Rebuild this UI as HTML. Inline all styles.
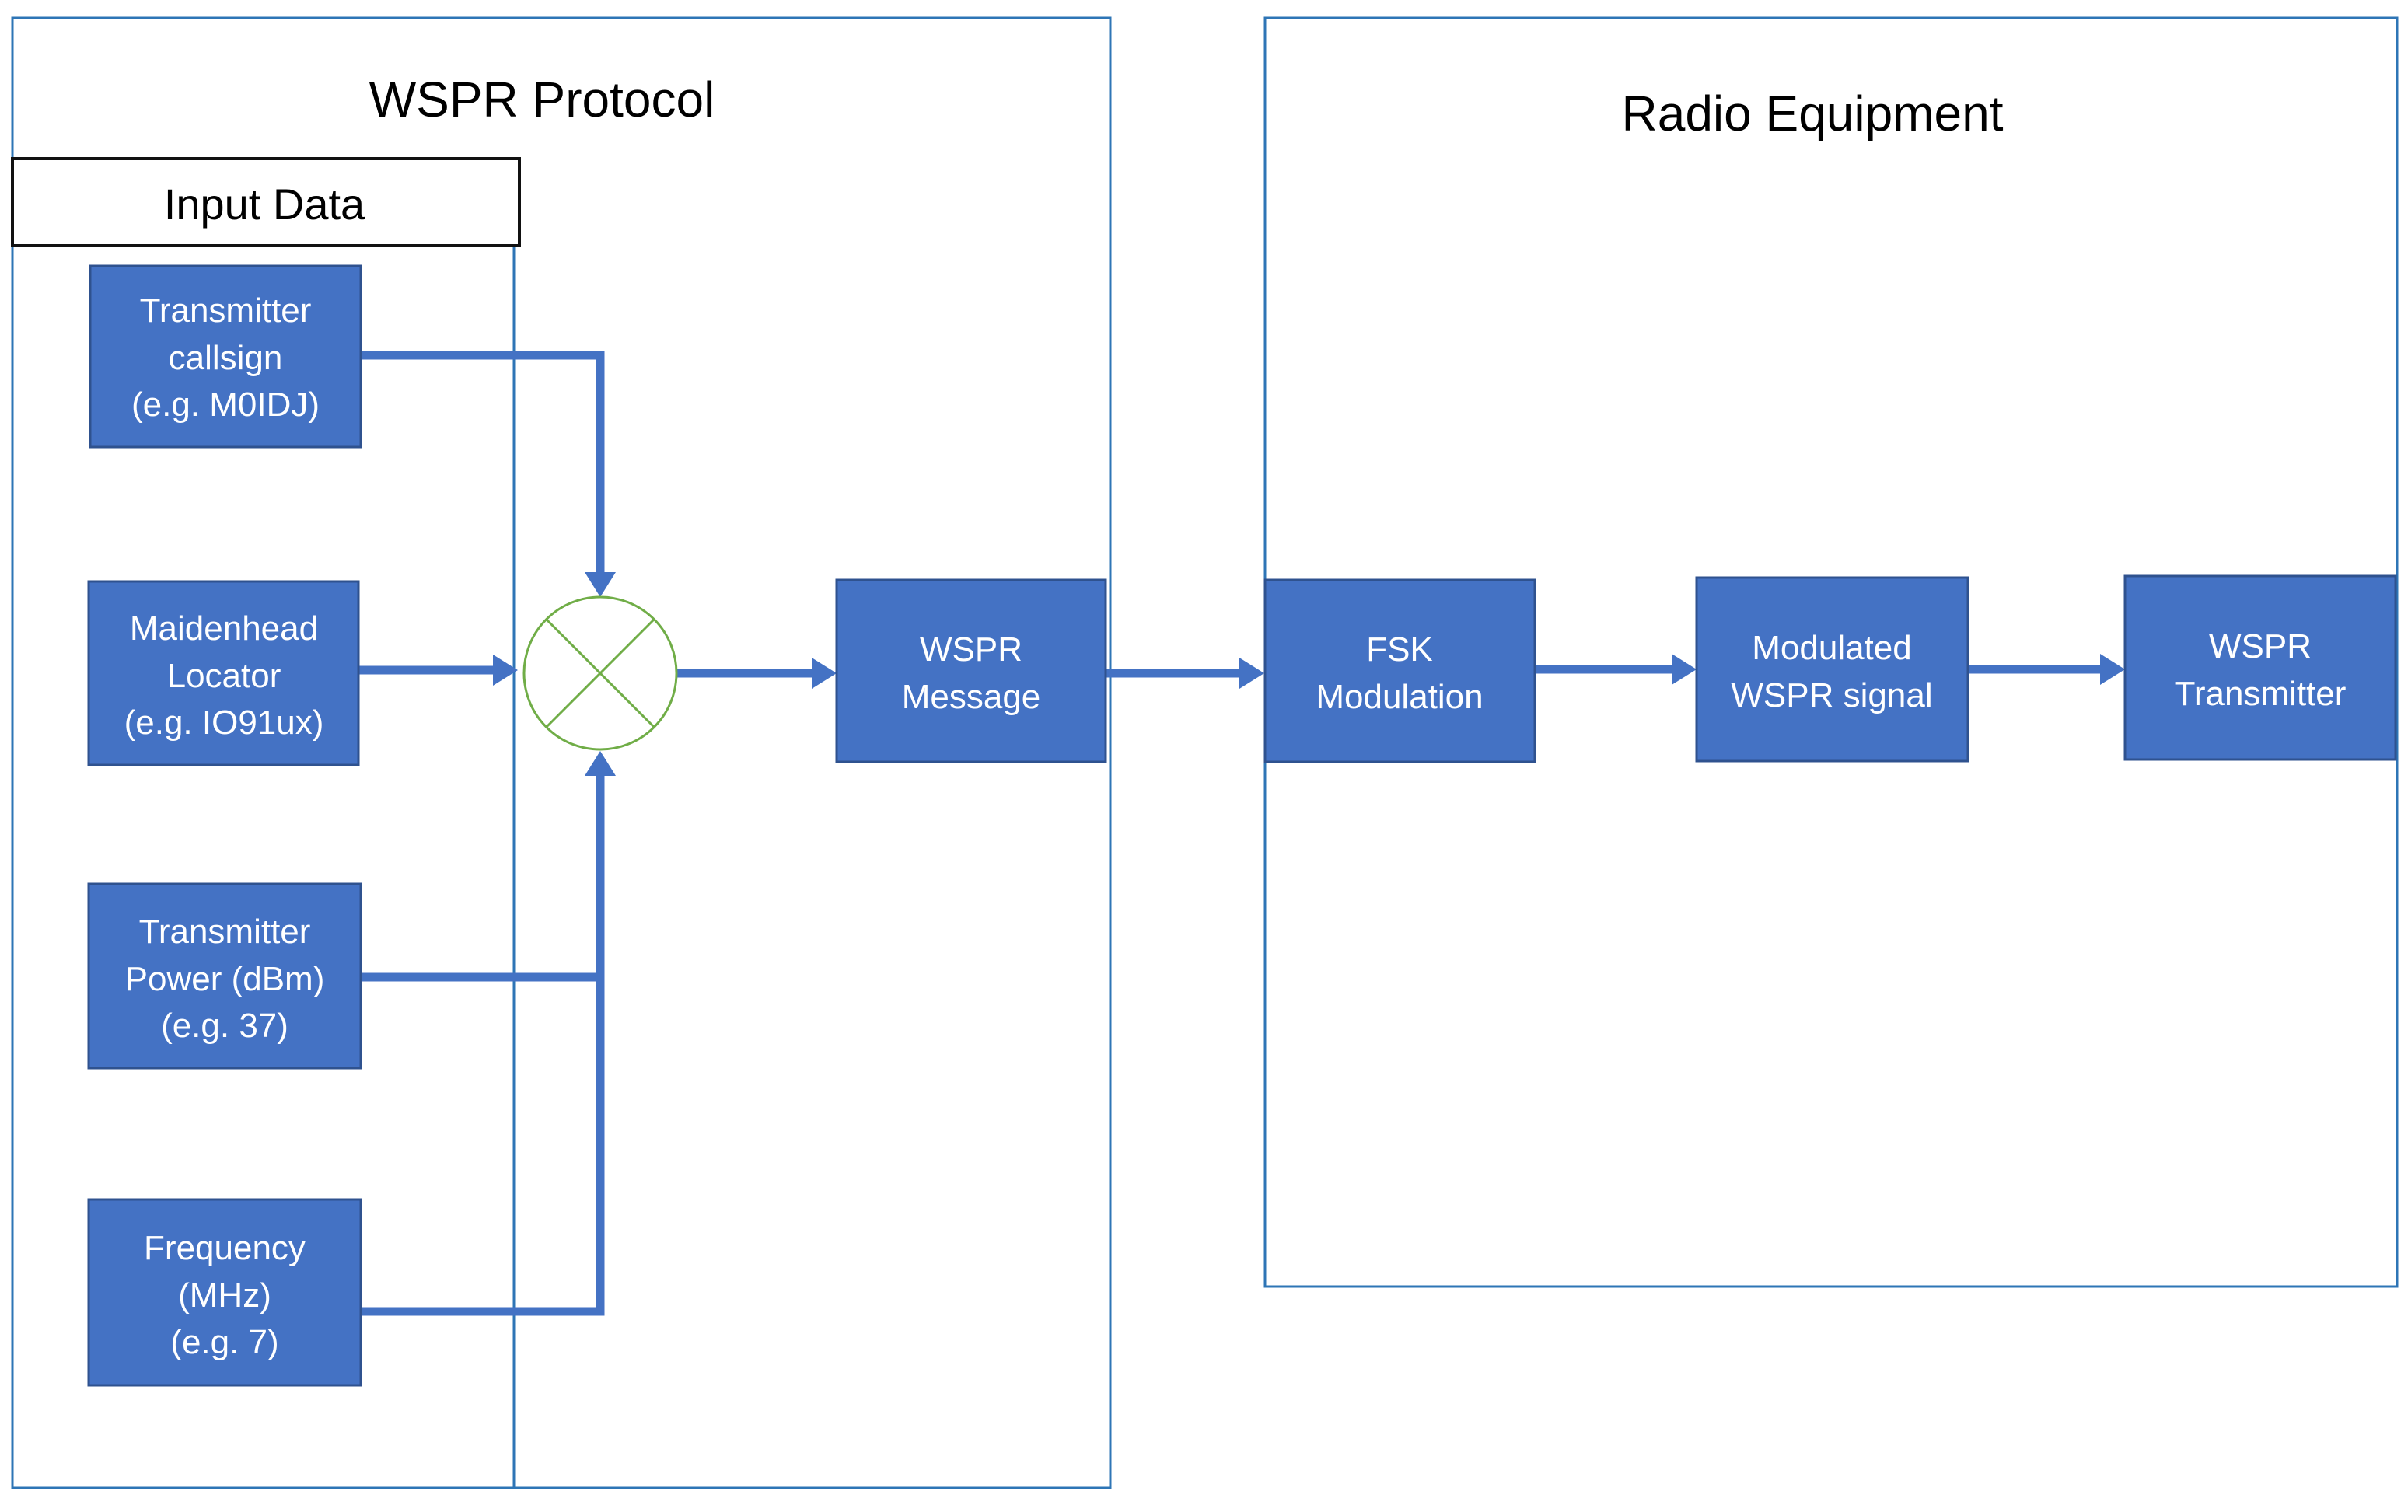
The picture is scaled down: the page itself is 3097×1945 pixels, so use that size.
<!DOCTYPE html>
<html><head><meta charset="utf-8"><style>
html,body{margin:0;padding:0;background:#fff;}
svg{display:block;}
text{font-family:"Liberation Sans",sans-serif;}
.b{fill:#4472C4;stroke:#2F528F;stroke-width:3;}
.t{fill:#fff;font-size:44px;text-anchor:middle;}
.c{stroke:#4472C4;stroke-width:11;fill:none;}
.a{fill:#4472C4;}
</style></head><body>
<svg width="3097" height="1945" viewBox="0 0 3097 1945" xmlns="http://www.w3.org/2000/svg">
<rect x="0" y="0" width="3097" height="1945" fill="#fff"/>
<!-- containers -->
<rect x="16" y="23" width="1412" height="1891" fill="none" stroke="#2E75B6" stroke-width="3"/>
<rect x="1627" y="23" width="1456" height="1632" fill="none" stroke="#2E75B6" stroke-width="3"/>
<line x1="661" y1="316" x2="661" y2="1914" stroke="#2E75B6" stroke-width="3"/>
<rect x="16" y="204" width="652" height="112" fill="#fff" stroke="#111" stroke-width="4"/>
<text x="697" y="150" font-size="64" text-anchor="middle" fill="#000">WSPR Protocol</text>
<text x="340" y="282" font-size="56" text-anchor="middle" fill="#000">Input Data</text>
<text x="2331" y="168" font-size="64" text-anchor="middle" fill="#000">Radio Equipment</text>

<!-- connectors -->
<polyline class="c" points="464,457 772,457 772,740"/>
<polygon class="a" points="752,736 792,736 772,768"/>
<line class="c" x1="462" y1="862" x2="638" y2="862"/>
<polygon class="a" points="634,842 634,882 666,862"/>
<polyline class="c" points="464,1257 772,1257"/>
<polyline class="c" points="464,1687 772,1687 772,995"/>
<polygon class="a" points="752,998 792,998 772,966"/>
<line class="c" x1="870" y1="866" x2="1048" y2="866"/>
<polygon class="a" points="1044,846 1044,886 1076,866"/>
<line class="c" x1="1422" y1="866" x2="1598" y2="866"/>
<polygon class="a" points="1594,846 1594,886 1626,866"/>
<line class="c" x1="1974" y1="861" x2="2154" y2="861"/>
<polygon class="a" points="2150,841 2150,881 2182,861"/>
<line class="c" x1="2531" y1="861" x2="2705" y2="861"/>
<polygon class="a" points="2701,841 2701,881 2733,861"/>

<!-- summing junction -->
<circle cx="772" cy="866" r="98" fill="#fff" stroke="#70AD47" stroke-width="3"/>
<line x1="703" y1="797" x2="841" y2="935" stroke="#70AD47" stroke-width="3"/>
<line x1="841" y1="797" x2="703" y2="935" stroke="#70AD47" stroke-width="3"/>

<!-- boxes -->
<rect class="b" x="116" y="342" width="348" height="233"/>
<text class="t" x="290" y="414">Transmitter</text>
<text class="t" x="290" y="475">callsign</text>
<text class="t" x="290" y="535">(e.g. M0IDJ)</text>

<rect class="b" x="114" y="748" width="347" height="236"/>
<text class="t" x="288" y="823">Maidenhead</text>
<text class="t" x="288" y="884">Locator</text>
<text class="t" x="288" y="944">(e.g. IO91ux)</text>

<rect class="b" x="114" y="1137" width="350" height="237"/>
<text class="t" x="289" y="1213">Transmitter</text>
<text class="t" x="289" y="1274">Power (dBm)</text>
<text class="t" x="289" y="1334">(e.g. 37)</text>

<rect class="b" x="114" y="1543" width="350" height="239"/>
<text class="t" x="289" y="1620">Frequency</text>
<text class="t" x="289" y="1681">(MHz)</text>
<text class="t" x="289" y="1741">(e.g. 7)</text>

<rect class="b" x="1076" y="746" width="346" height="234"/>
<text class="t" x="1249" y="850">WSPR</text>
<text class="t" x="1249" y="911">Message</text>

<rect class="b" x="1627" y="746" width="347" height="234"/>
<text class="t" x="1800" y="850">FSK</text>
<text class="t" x="1800" y="911">Modulation</text>

<rect class="b" x="2182" y="743" width="349" height="236"/>
<text class="t" x="2356" y="848">Modulated</text>
<text class="t" x="2356" y="909">WSPR signal</text>

<rect class="b" x="2733" y="741" width="348" height="236"/>
<text class="t" x="2907" y="846">WSPR</text>
<text class="t" x="2907" y="907">Transmitter</text>
</svg>
</body></html>
